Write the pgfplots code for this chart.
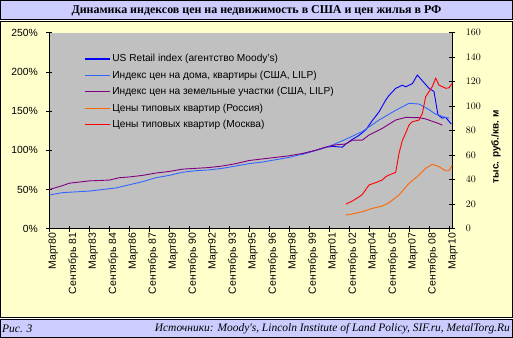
\documentclass[border=0pt]{standalone}
\usepackage{pgfplots}
\pgfplotsset{compat=1.18}
\usepackage{fontspec}
\setmainfont{Liberation Sans}
\newfontfamily\tnr{Liberation Serif}
\definecolor{lav}{HTML}{CCCCFF}
\definecolor{pan}{HTML}{FFFFCC}
\definecolor{pa}{HTML}{C0C0C0}
\definecolor{usblue}{HTML}{0000FF}
\definecolor{houseblue}{HTML}{3366FF}
\definecolor{landpurple}{HTML}{800080}
\definecolor{ruorange}{HTML}{FF6600}
\definecolor{mskred}{HTML}{FF0000}
\begin{document}
\begin{tikzpicture}
\useasboundingbox (0bp,0bp) rectangle (513bp,338bp);
\path[fill=lav,draw=black,line width=1bp] (0.5bp,318.5bp) rectangle (512.5bp,337.5bp);
\path[fill=pan,draw=black,line width=1bp] (0.5bp,20.5bp) rectangle (512.5bp,316.5bp);
\path[fill=lav,draw=black,line width=1bp] (0.5bp,0.5bp) rectangle (512.5bp,18.5bp);
\node[font=\tnr\bfseries\fontsize{12}{14}\selectfont] at (256.5bp,327.5bp) {Динамика индексов цен на недвижимость в США и цен жилья в РФ};
\node[font=\tnr\itshape\fontsize{11.5}{13}\selectfont,anchor=west,inner sep=0pt] at (2bp,9.5bp) {Рис. 3};
\node[font=\tnr\itshape\fontsize{11.5}{13}\selectfont,anchor=east,inner sep=0pt] at (510bp,9.5bp) {Источники: Moody's, Lincoln Institute of Land Policy, SIF.ru, MetalTorg.Ru};
\begin{axis}[at={(49.3bp,109.3bp)}, anchor=south west, scale only axis,
  width=403bp, height=196bp, xmin=0, xmax=121, ymin=0, ymax=250,
  axis x line*=bottom, axis y line*=left,
  axis line style={line width=1bp,-}, 
  axis background/.style={fill=pa},
  tick align=center, major tick length=6bp, tick style={black,line width=0.8bp},
  xtick={0,6,...,120},
  xticklabels={Март80,Сентябрь 81,Март83,Сентябрь 84,Март86,Сентябрь 87,Март89,Сентябрь 90,Март92,Сентябрь 93,Март95,Сентябрь 96,Март98,Сентябрь 99,Март01,Сентябрь 02,Март04,Сентябрь 05,Март07,Сентябрь 08,Март10},
  xticklabel style={rotate=90,anchor=east,font=\fontsize{10.5}{12}\selectfont,xshift=2.5bp,yshift=-4bp},
  ytick={0,50,...,250},
  yticklabels={0\%,50\%,100\%,150\%,200\%,250\%},
  yticklabel style={font=\fontsize{10.4}{12}\selectfont,xshift=-5bp},
  legend style={at={(0.086,0.90)},anchor=north west,draw=none,fill=none,
    font=\fontsize{10.2}{12}\selectfont,row sep=3.6bp,inner sep=0pt},
  legend cell align=left,
  legend image code/.code={\draw[#1] plot coordinates {(0bp,0bp) (25bp,0bp)};}]
\addlegendimage{draw=usblue,line width=1.2bp}
\addlegendentry{US Retail index (агентство Moody's)}
\addlegendimage{draw=houseblue,line width=1.2bp}
\addlegendentry{Индекс цен на дома, квартиры (США, LILP)}
\addlegendimage{draw=landpurple,line width=1.2bp}
\addlegendentry{Индекс цен на земельные участки (США, LILP)}
\addlegendimage{draw=ruorange,line width=1.2bp}
\addlegendentry{Цены типовых квартир (Россия)}
\addlegendimage{draw=mskred,line width=1.2bp}
\addlegendentry{Цены типовых квартир (Москва)}
\addplot[color=usblue,line width=0.9bp,forget plot] coordinates {(76,95)(80,100)(83,104)(85,105)(88,104)(89,108)(91,114)(93,119)(95,126)(97,138)(99,149)(101,164)(102,170)(104,179)(106,183)(107,181)(109,185)(110.5,196)(114,179)(115.5,175)(116.7,145)(118,141)(119,142)(120.7,133.5)};
\addplot[color=houseblue,line width=0.9bp,forget plot] coordinates {(0,43)(4,46)(8,47)(12,48)(16,50)(20,52)(24,56)(28,60)(32,65)(36,68)(40,72)(44,74)(48,75)(52,77)(56,80)(60,83)(64,85)(68,88)(72,91)(76,95)(80,100)(82,102)(85,106.8)(89,114)(94,124)(99,138.6)(104,151)(108,160)(111,159)(114,152)(116,146)(117,145)(118,143)(120,141)};
\addplot[color=landpurple,line width=0.9bp,forget plot] coordinates {(0,50)(4,55)(6,58)(10,60)(12,61)(18,62)(21,65)(24,66)(28,68)(32,71)(36,73)(40,76)(44,77)(48,78)(52,80)(56,83)(60,87)(64,89)(68,91)(72,93)(76,96)(80,100)(83,104)(86,107)(89,108)(91,113)(94,113)(96,119.5)(100,128)(104,138.6)(107,142)(111,141.6)(113,140)(115,137)(117,134)(118,132)};
\end{axis}
\begin{axis}[at={(49.3bp,109.3bp)}, anchor=south west, scale only axis,
  width=403bp, height=196bp, xmin=0, xmax=121, ymin=0, ymax=160,
  axis y line*=right, axis x line=none,
  axis line style={line width=1bp,-},
  tick align=center, major tick length=6bp, tick style={black,line width=0.8bp},
  ytick={0,20,...,160},
  yticklabel style={font=\fontsize{10.4}{12}\selectfont,xshift=7bp}]
\addplot[color=ruorange,line width=0.9bp] coordinates {(89,11.2)(91,12)(94,13.9)(97,16.6)(100,18.5)(102,21.2)(105,27.5)(108,37)(111,43.8)(113,49.3)(115,52.6)(117,50.6)(119,47.3)(120,47.3)(121,52)};
\addplot[color=mskred,line width=0.9bp] coordinates {(89,20)(91,22.6)(93,26)(94,28)(96,35.7)(98,37.6)(100,39.8)(101,42.4)(102,43.8)(104,46)(105,61.5)(106,72)(107,78)(108,84.6)(109,87.3)(111,88.7)(112,94)(113,107.7)(115,116)(116,122.8)(117,117.3)(119,114.6)(120,115)(121,118.7)};
\end{axis}
\node[rotate=90,font=\bfseries\fontsize{10}{12}\selectfont] at (496bp,191.5bp) {тыс. руб./кв. м};
\end{tikzpicture}
\end{document}
